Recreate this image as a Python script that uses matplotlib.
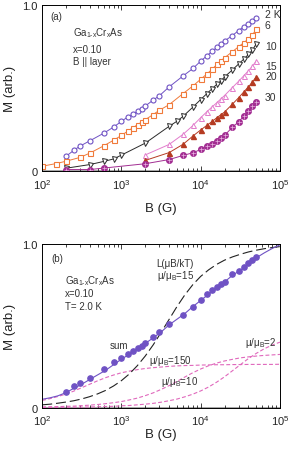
import numpy as np
import matplotlib
matplotlib.use("Agg")
import matplotlib.pyplot as plt
from matplotlib.ticker import FixedLocator, FixedFormatter, LogLocator

plt.rcParams['font.family'] = ['Liberation Sans', 'DejaVu Sans']
plt.rcParams['mathtext.default'] = 'regular'

# ---- panel (a): M vs B at several temperatures ----
field_a = [200, 250, 300, 400, 600, 800, 1000, 1200, 1400, 1600, 1800, 2000, 2500, 3000,
           4000, 6000, 8000, 10000, 12000, 14000, 16000, 18000, 20000, 25000, 30000,
           35000, 40000, 45000, 50000]
m_2K = [0.090, 0.125, 0.151, 0.183, 0.229, 0.266, 0.300, 0.326, 0.344, 0.360, 0.376, 0.392,
        0.427, 0.453, 0.507, 0.573, 0.618, 0.662, 0.694, 0.722, 0.744, 0.765, 0.783, 0.815,
        0.845, 0.869, 0.887, 0.903, 0.924]

field_6K = [100, 150, 200, 300, 400, 600, 800, 1000, 1200, 1400, 1600, 1800, 2000, 2500, 3000,
            4000, 6000, 8000, 10000, 12000, 14000, 16000, 18000, 20000, 25000, 30000,
            35000, 40000, 45000, 50000]
m_6K = [0.030, 0.046, 0.060, 0.083, 0.109, 0.153, 0.187, 0.215, 0.241, 0.262, 0.280, 0.296,
        0.310, 0.340, 0.366, 0.400, 0.467, 0.513, 0.553, 0.585, 0.614, 0.642, 0.664, 0.682,
        0.718, 0.748, 0.773, 0.795, 0.819, 0.853]

field_10K = [200, 400, 600, 800, 1000, 2000, 4000, 5000, 6000, 8000, 10000, 12000, 14000,
             16000, 18000, 20000, 25000, 30000, 35000, 40000, 45000, 50000]
m_10K = [0.018, 0.040, 0.059, 0.074, 0.097, 0.169, 0.270, 0.300, 0.330, 0.386, 0.431, 0.467,
         0.497, 0.523, 0.543, 0.567, 0.608, 0.644, 0.674, 0.702, 0.728, 0.765]

field_hi = [2000, 4000, 6000, 8000, 10000, 12000, 14000, 16000, 18000, 20000, 25000, 30000,
            35000, 40000, 45000, 50000]
m_15K = [0.098, 0.161, 0.222, 0.275, 0.322, 0.358, 0.388, 0.412, 0.435, 0.455, 0.502, 0.540,
         0.574, 0.604, 0.632, 0.662]
m_20K = [0.065, 0.112, 0.162, 0.212, 0.248, 0.276, 0.300, 0.322, 0.340, 0.356, 0.402, 0.441,
         0.477, 0.507, 0.537, 0.567]

field_30K = [200, 400, 600] + field_hi
m_30K = [0.010, 0.010, 0.019, 0.045, 0.070, 0.095, 0.111, 0.131, 0.149, 0.165, 0.181, 0.199,
         0.215, 0.264, 0.296, 0.332, 0.360, 0.390, 0.416]

temp_labels = ['2 K', '6', '10', '15', '20', '30']
temp_label_y = [0.946, 0.880, 0.753, 0.633, 0.573, 0.447]

# ---- panel (b): 2 K data with Langevin components ----
field_b = [200, 250, 300, 400, 600, 800, 1000, 1200, 1400, 1600, 1800, 2000, 2500, 3000,
           4000, 6000, 8000, 10000, 12000, 14000, 16000, 18000, 20000, 25000, 30000,
           35000, 40000, 45000, 50000]
m_b = [0.093, 0.130, 0.148, 0.182, 0.235, 0.276, 0.303, 0.325, 0.343, 0.362, 0.377, 0.394,
       0.430, 0.460, 0.509, 0.566, 0.617, 0.658, 0.692, 0.719, 0.737, 0.754, 0.770, 0.815,
       0.837, 0.862, 0.882, 0.902, 0.919]

field_curve = [100, 126, 158, 200, 251, 316, 398, 501, 631, 794, 1000, 1259, 1585, 1995, 2512,
               3162, 3981, 5012, 6310, 7943, 10000, 12589, 15849, 19953, 25119, 31623, 39811,
               50119, 63096, 79433, 100000]
sum_curve = [0.051, 0.060, 0.072, 0.092, 0.118, 0.143, 0.172, 0.200, 0.228, 0.262, 0.296,
             0.326, 0.357, 0.392, 0.426, 0.462, 0.505, 0.540, 0.575, 0.617, 0.655, 0.693,
             0.727, 0.768, 0.808, 0.840, 0.876, 0.915, 0.945, 0.972, 0.995]
lang_15 = [0.017, 0.021, 0.027, 0.034, 0.042, 0.053, 0.067, 0.084, 0.105, 0.132, 0.165,
           0.206, 0.256, 0.315, 0.383, 0.459, 0.538, 0.617, 0.689, 0.751, 0.802, 0.842,
           0.875, 0.901, 0.921, 0.937, 0.951, 0.962, 0.971, 0.978, 0.984]
comp_150 = [0.044, 0.055, 0.068, 0.083, 0.101, 0.122, 0.143, 0.164, 0.183, 0.199, 0.213,
            0.223, 0.232, 0.239, 0.244, 0.248, 0.252, 0.255, 0.257, 0.258, 0.260, 0.261,
            0.262, 0.262, 0.263, 0.263, 0.264, 0.264, 0.264, 0.264, 0.265]
comp_10 = [0.004, 0.005, 0.006, 0.008, 0.009, 0.012, 0.015, 0.019, 0.024, 0.030, 0.037,
           0.047, 0.058, 0.073, 0.090, 0.111, 0.134, 0.160, 0.187, 0.213, 0.236, 0.256,
           0.272, 0.285, 0.295, 0.304, 0.310, 0.315, 0.319, 0.322, 0.325]
comp_2 = [0.001, 0.001, 0.002, 0.002, 0.003, 0.003, 0.004, 0.005, 0.007, 0.008, 0.011,
          0.013, 0.017, 0.021, 0.026, 0.033, 0.042, 0.052, 0.066, 0.082, 0.102, 0.126,
          0.155, 0.188, 0.225, 0.262, 0.299, 0.331, 0.359, 0.382, 0.400]

c_2K = '#6f52c4'
c_6K = '#f07a3a'
c_10K = '#2a2a2a'
c_15K = '#e27ccc'
c_20K = '#b53b22'
c_30K = '#a22e92'
c_pink = '#e068bc'
c_text = '#333333'
fs_txt = 7
compound = 'Ga$_{1\u2010x}$Cr$_x$As'

fig = plt.figure(figsize=(2.91, 4.52), dpi=100)
ax1 = fig.add_axes([0.145, 0.619, 0.817, 0.368])
ax2 = fig.add_axes([0.145, 0.096, 0.817, 0.362])


def style_axis(ax, xlab_y):
    ax.set_xscale('log')
    ax.set_xlim(1e2, 1e5)
    ax.set_ylim(0, 1.0)
    ax.axhline(0, color='#8a8a8a', lw=1.8, zorder=1)
    ax.xaxis.set_major_locator(LogLocator(base=10, numticks=10))
    ax.xaxis.set_minor_locator(LogLocator(base=10, subs=np.arange(2, 10), numticks=20))
    ax.yaxis.set_major_locator(FixedLocator([0, 1.0]))
    ax.yaxis.set_major_formatter(FixedFormatter(['0', '1.0']))
    ax.tick_params(which='both', direction='in', top=True, right=True, labelsize=8,
                   width=0.6, colors='#222222')
    ax.tick_params(which='major', length=3.5)
    ax.tick_params(which='minor', length=2)
    ax.tick_params(axis='x', pad=4)
    for s in ax.spines.values():
        s.set_linewidth(0.7)
    ax.set_xlabel('B (G)', fontsize=9.5, color='#222222')
    ax.set_ylabel('M (arb.)', fontsize=9.5, color='#222222')
    ax.xaxis.set_label_coords(0.5, xlab_y)
    ax.yaxis.set_label_coords(-0.112, 0.5)


style_axis(ax1, -0.185)
style_axis(ax2, -0.125)

lw = 0.7
ms = 3.6
ax1.plot(field_a, m_2K, '-o', color=c_2K, mfc='white', mec=c_2K, ms=ms, lw=lw, mew=0.8)
ax1.plot(field_6K, m_6K, '-s', color=c_6K, mfc='white', mec=c_6K, ms=ms, lw=lw, mew=0.8)
ax1.plot(field_10K, m_10K, '-v', color=c_10K, mfc='white', mec=c_10K, ms=ms, lw=lw, mew=0.7)
ax1.plot(field_hi, m_15K, '-^', color=c_15K, mfc='white', mec=c_15K, ms=ms, lw=lw, mew=0.7)
ax1.plot(field_hi, m_20K, '-^', color=c_20K, mfc=c_20K, mec=c_20K, ms=ms, lw=lw)
ax1.plot(field_30K, m_30K, '-o', color=c_30K, mfc=c_30K, mec=c_30K, ms=ms + 0.4, lw=lw)
ax1.plot(field_30K, m_30K, '+', color='#e8b0e0', ms=ms, mew=0.5)

for lab, yy in zip(temp_labels, temp_label_y):
    ax1.text(0.937, yy, lab, transform=ax1.transAxes, fontsize=7.5, ha='left', va='center',
             color=c_text)
ax1.text(0.035, 0.934, '(a)', transform=ax1.transAxes, fontsize=fs_txt, va='center',
         color=c_text)
ax1.text(0.13, 0.838, compound, transform=ax1.transAxes, fontsize=fs_txt,
         va='center', color=c_text)
ax1.text(0.13, 0.736, 'x=0.10', transform=ax1.transAxes, fontsize=fs_txt, va='center',
         color=c_text)
ax1.text(0.13, 0.664, 'B || layer', transform=ax1.transAxes, fontsize=fs_txt, va='center',
         color=c_text)

# panel (b)
ax2.plot(field_curve, comp_150, '--', color=c_pink, lw=0.8, dashes=(3.5, 2))
ax2.plot(field_curve, comp_10, '--', color=c_pink, lw=0.8, dashes=(3.5, 2))
ax2.plot(field_curve, comp_2, '--', color=c_pink, lw=0.8, dashes=(3.5, 2))
ax2.plot(field_curve, lang_15, '--', color='#222222', lw=0.8, dashes=(9, 3.5))
ax2.plot(field_curve, sum_curve, '-', color=c_2K, lw=0.8)
ax2.plot(field_b, m_b, 'o', color=c_2K, ms=3.8)

ax2.text(0.04, 0.914, '(b)', transform=ax2.transAxes, fontsize=fs_txt, va='center',
         color=c_text)
ax2.text(0.095, 0.78, compound, transform=ax2.transAxes, fontsize=fs_txt,
         va='center', color=c_text)
ax2.text(0.095, 0.70, 'x=0.10', transform=ax2.transAxes, fontsize=fs_txt, va='center',
         color=c_text)
ax2.text(0.095, 0.623, 'T= 2.0 K', transform=ax2.transAxes, fontsize=fs_txt, va='center',
         color=c_text)
ax2.text(0.481, 0.886, 'L(μB/kT)', transform=ax2.transAxes, fontsize=fs_txt, va='center',
         color=c_text)
ax2.text(0.481, 0.81, 'μ/μ$_B$=15', transform=ax2.transAxes, fontsize=fs_txt, va='center',
         color=c_text)
ax2.text(0.285, 0.383, 'sum', transform=ax2.transAxes, fontsize=fs_txt, va='center',
         color=c_text)
ax2.text(0.449, 0.291, 'μ/μ$_B$=150', transform=ax2.transAxes, fontsize=fs_txt, va='center',
         color=c_text)
ax2.text(0.50, 0.163, 'μ/μ$_B$=10', transform=ax2.transAxes, fontsize=fs_txt, va='center',
         color=c_text)
ax2.text(0.855, 0.403, 'μ/μ$_B$=2', transform=ax2.transAxes, fontsize=fs_txt, va='center',
         color=c_text)

fig.savefig('out.png', dpi=100)
